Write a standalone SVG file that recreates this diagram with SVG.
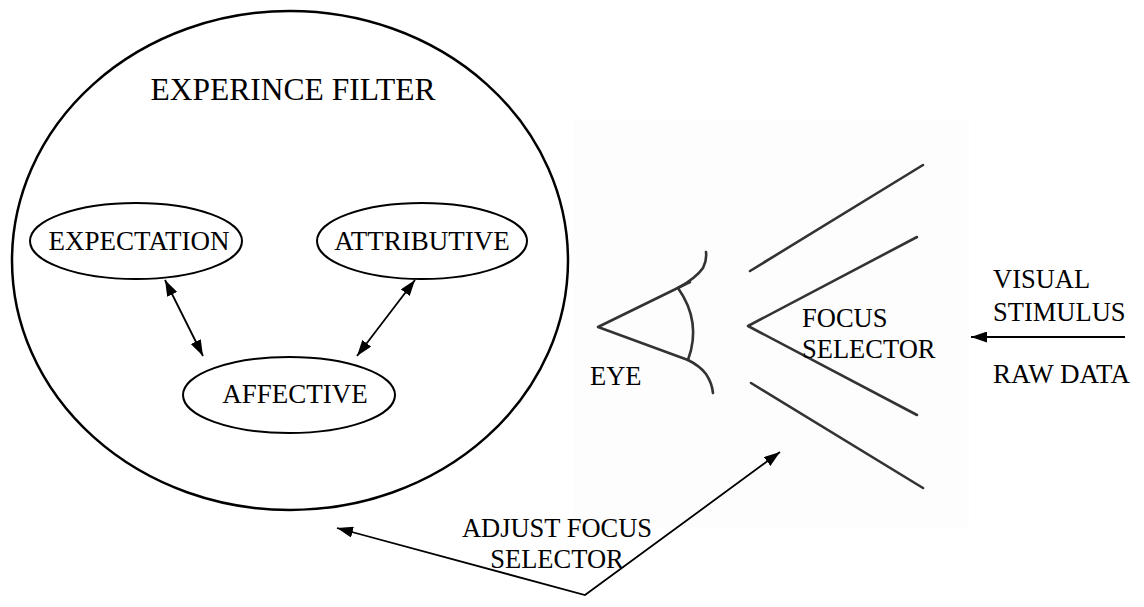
<svg xmlns="http://www.w3.org/2000/svg" width="1144" height="607" viewBox="0 0 1144 607">
<style>
  .node { fill: none; stroke: #000; stroke-width: 2; }
  .big { fill: none; stroke: #000; stroke-width: 2.5; }
  .conn { fill: none; stroke: #000; stroke-width: 1.8; }
  .eye { fill: none; stroke: #333; stroke-width: 2.6; stroke-linecap: round; stroke-linejoin: round; }
</style>
<defs>
  <marker id="ahl" viewBox="0 0 10 10" refX="10" refY="5" markerWidth="16" markerHeight="11" markerUnits="userSpaceOnUse" orient="auto-start-reverse" preserveAspectRatio="none">
    <path d="M0,0 L10,5 L0,10 z" fill="#000"/>
  </marker>
</defs>
<rect width="1144" height="607" fill="#fff"/>

<g id="eye-picture">
  <rect x="573" y="120" width="396" height="407" fill="#fdfdfd"/>
  <path class="eye" d="M690,282 L598,327 L688,360"/>
  <path class="eye" d="M678,288 Q696,278 703,268 Q707,260 706,252"/>
  <path class="eye" d="M688,360 Q700,366 706,374 Q712,383 713,393"/>
  <path class="eye" stroke-width="2.2" d="M678,288 Q702,322 688,360"/>
</g>

<g id="focus-selector">
  <path class="eye" d="M750,271 L923,165"/>
  <path class="eye" d="M917,237 L748,326 L917,415"/>
  <path class="eye" d="M751,383 L923,488"/>
  <text x="802" y="327" font-family="Liberation Serif" font-size="26.5">FOCUS</text>
  <text x="802" y="358" font-family="Liberation Serif" font-size="26.5">SELECTOR</text>
</g>

<g id="experience-filter">
  <ellipse class="big" cx="290" cy="260.5" rx="278" ry="249.5"/>
  <text x="293" y="100" text-anchor="middle" font-family="Liberation Serif" font-size="31.5">EXPERINCE FILTER</text>
</g>

<g id="expectation">
  <ellipse class="node" cx="136" cy="241" rx="106" ry="38"/>
  <text x="139" y="250" text-anchor="middle" font-family="Liberation Serif" font-size="27">EXPECTATION</text>
</g>

<g id="attributive">
  <ellipse class="node" cx="422" cy="241" rx="105" ry="38"/>
  <text x="422" y="250" text-anchor="middle" font-family="Liberation Serif" font-size="27">ATTRIBUTIVE</text>
</g>

<g id="affective">
  <ellipse class="node" cx="289" cy="395" rx="106" ry="38"/>
  <text x="295" y="403" text-anchor="middle" font-family="Liberation Serif" font-size="27">AFFECTIVE</text>
</g>

<g id="eye-label">
  <text x="590" y="385" font-family="Liberation Serif" font-size="26.5">EYE</text>
</g>

<g id="visual-stimulus">
  <text x="993" y="288" font-family="Liberation Serif" font-size="26.5">VISUAL</text>
  <text x="993" y="321" font-family="Liberation Serif" font-size="26.5">STIMULUS</text>
  <text x="993" y="383" font-family="Liberation Serif" font-size="27">RAW DATA</text>
</g>

<g id="adjust-label">
  <text x="557" y="537" text-anchor="middle" font-family="Liberation Serif" font-size="26.5">ADJUST FOCUS</text>
  <text x="557" y="568" text-anchor="middle" font-family="Liberation Serif" font-size="26.5">SELECTOR</text>
</g>

<g id="connectors">
  <line class="conn" x1="165" y1="280" x2="203" y2="356" marker-start="url(#ahl)" marker-end="url(#ahl)"/>
  <line class="conn" x1="415" y1="280" x2="357" y2="356" marker-start="url(#ahl)" marker-end="url(#ahl)"/>
  <line class="conn" x1="1125" y1="337" x2="971" y2="337" marker-end="url(#ahl)"/>
  <polyline class="conn" points="337,528 585,595 780,452" marker-start="url(#ahl)" marker-end="url(#ahl)"/>
</g>
</svg>
